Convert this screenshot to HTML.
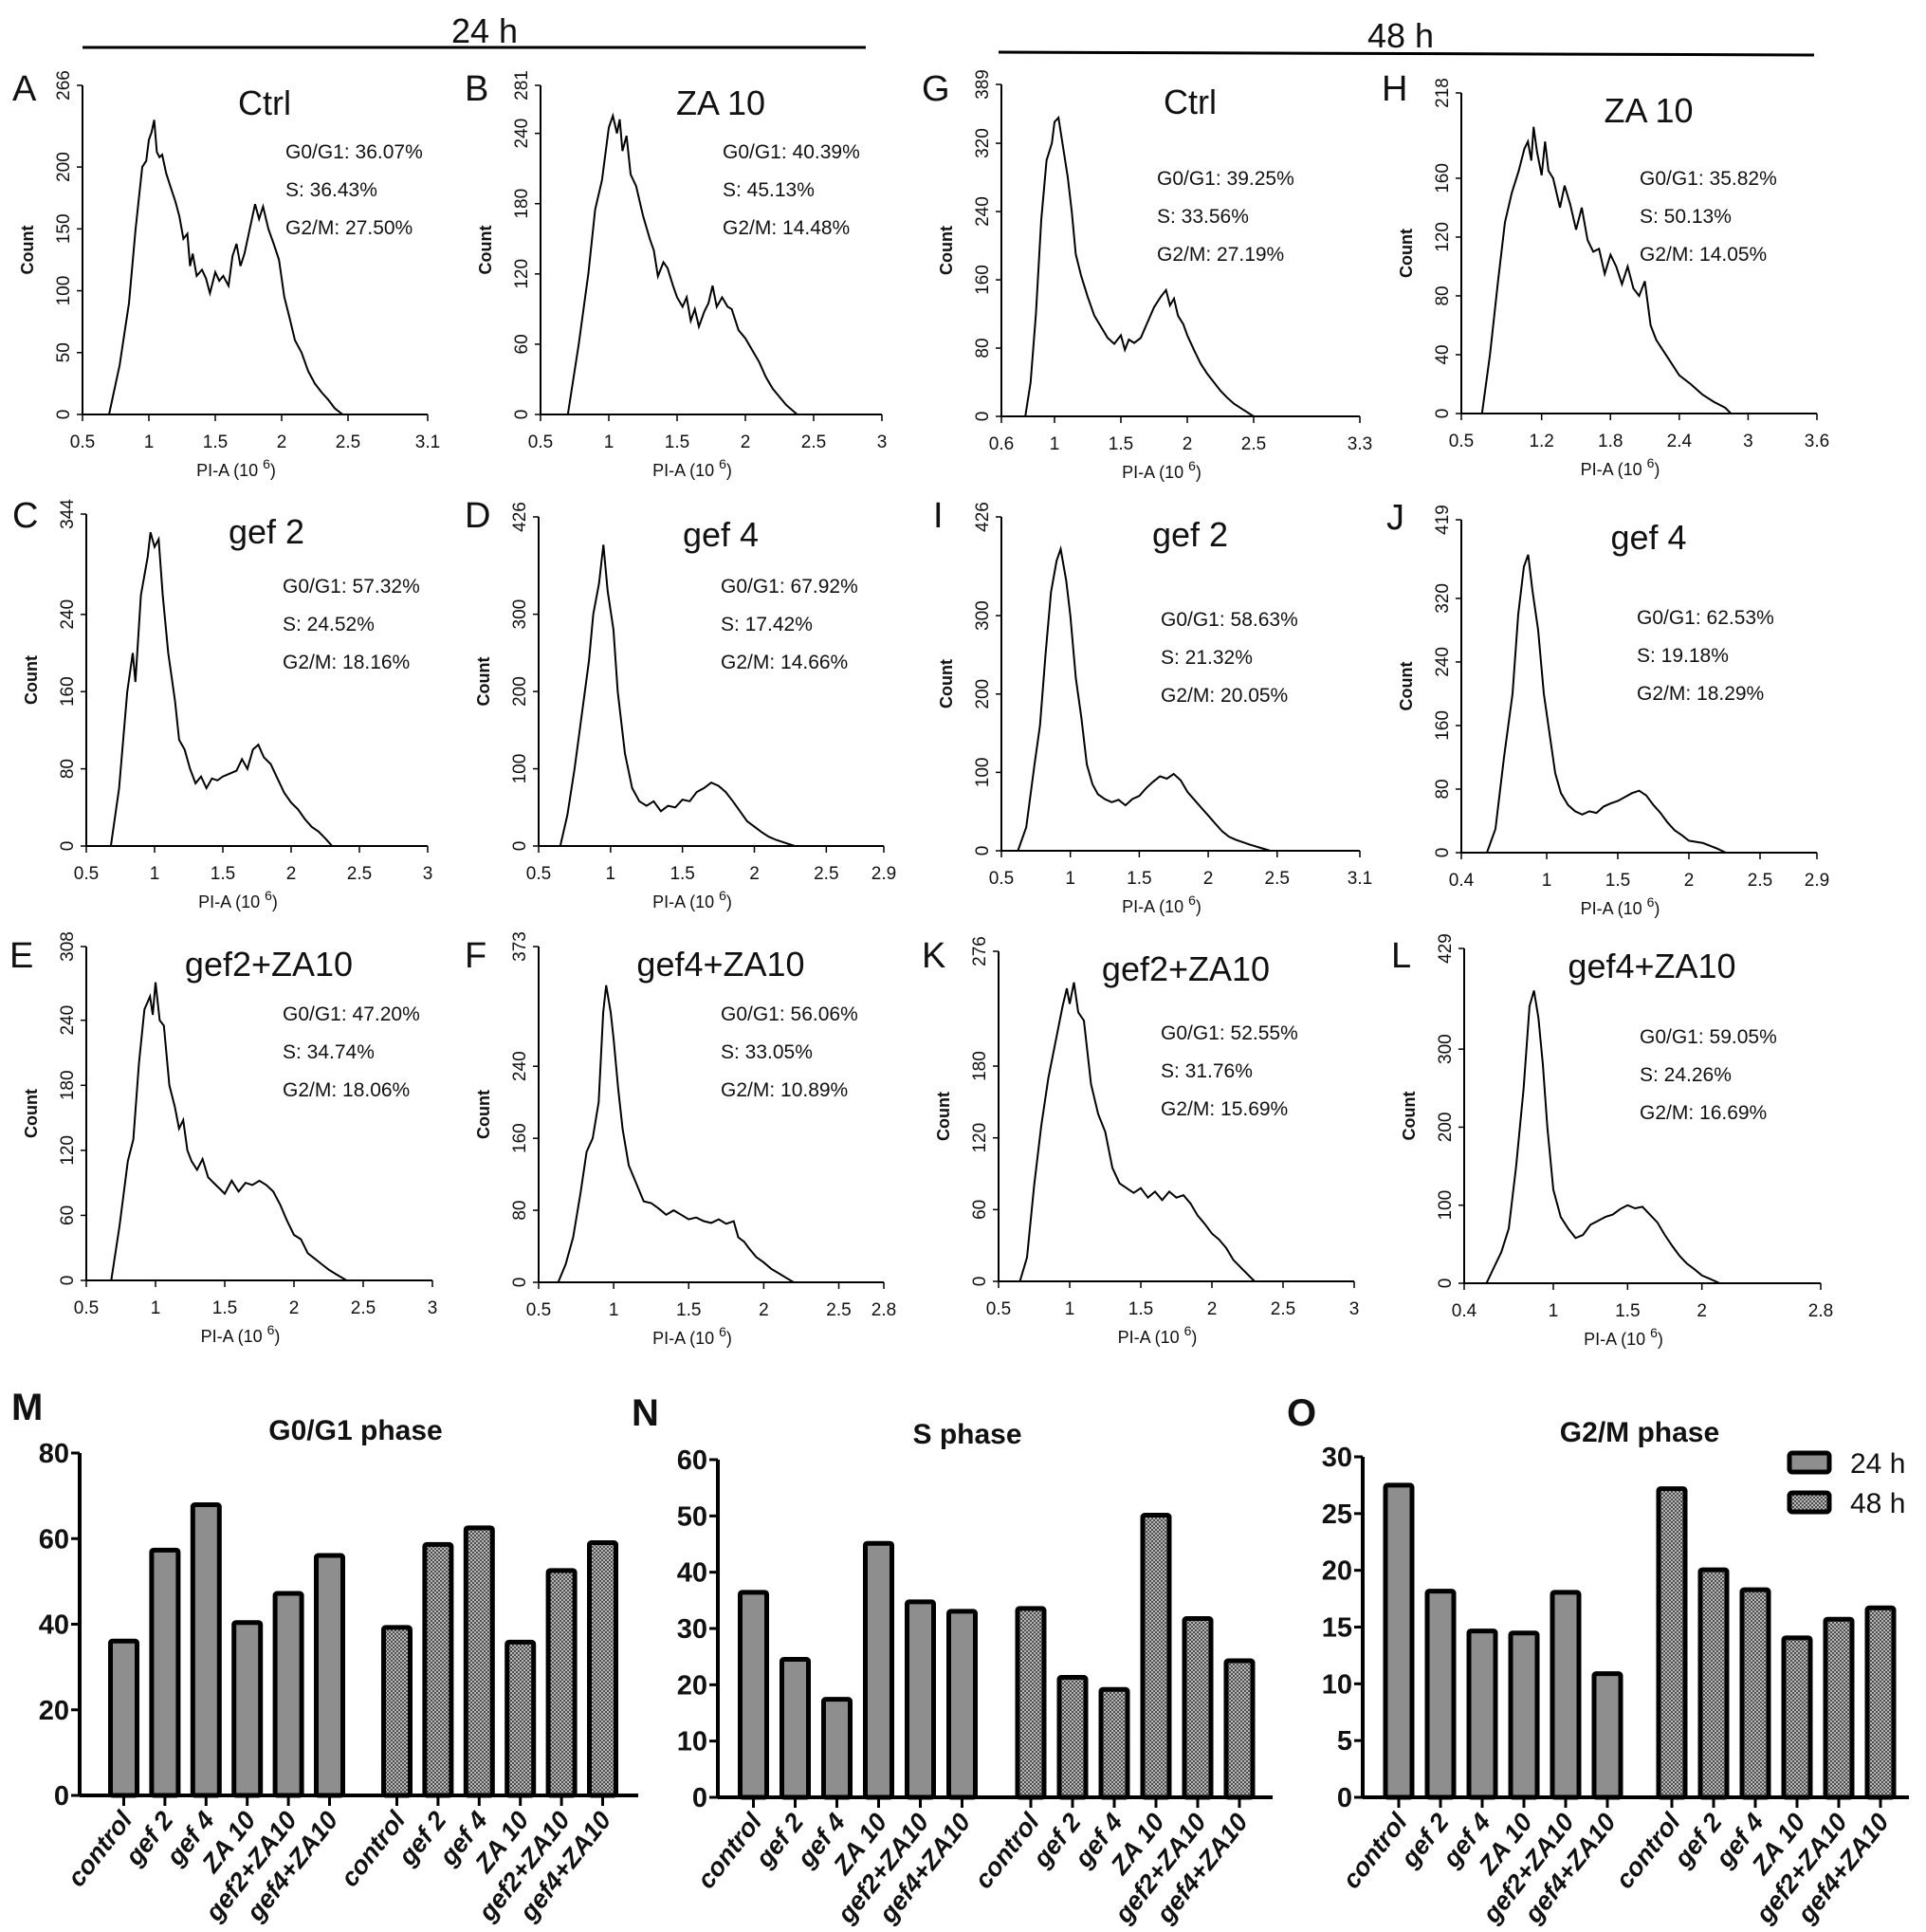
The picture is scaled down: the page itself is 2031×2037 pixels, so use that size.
<!DOCTYPE html>
<html><head><meta charset="utf-8"><style>
html,body{margin:0;padding:0;background:#fff}
svg{display:block}
text{font-family:"Liberation Sans",Arial,sans-serif;fill:#111}
</style></head><body>
<svg id="fig" xmlns="http://www.w3.org/2000/svg" width="2031" height="2037" viewBox="0 0 2031 2037">
<defs>
<pattern id="chk" width="4" height="4" patternUnits="userSpaceOnUse">
<rect width="4" height="4" fill="#4e4e4e"/><rect width="2" height="2" fill="#b8b8b8"/><rect x="2" y="2" width="2" height="2" fill="#b8b8b8"/>
</pattern>
</defs>
<g>
<text x="511" y="45" font-size="36" text-anchor="middle">24 h</text>
<line x1="87" y1="50" x2="913" y2="50" stroke="#000" stroke-width="3"/>
</g>
<g>
<text x="1477" y="50" font-size="36" text-anchor="middle">48 h</text>
<line x1="1053" y1="55" x2="1913" y2="58" stroke="#000" stroke-width="3"/>
</g>
</svg>
<script>
// ---- Histogram data (PI-A value, count) ----
const histA=[[0.7,0],[0.78,40],[0.85,90],[0.9,150],[0.95,200],[0.98,205],[1.0,222],[1.02,228],[1.04,238],[1.06,212],[1.08,208],[1.1,210],[1.13,195],[1.16,185],[1.2,172],[1.23,160],[1.26,142],[1.29,146],[1.31,120],[1.33,130],[1.36,112],[1.4,117],[1.43,110],[1.46,98],[1.5,115],[1.53,108],[1.56,112],[1.6,104],[1.63,128],[1.66,138],[1.69,120],[1.72,130],[1.76,150],[1.8,170],[1.83,158],[1.86,168],[1.9,150],[1.94,138],[1.98,125],[2.02,95],[2.06,78],[2.1,60],[2.15,50],[2.2,35],[2.25,25],[2.3,18],[2.35,12],[2.4,5],[2.46,0]];
const histB=[[0.7,0],[0.78,60],[0.85,120],[0.9,175],[0.95,200],[1.0,245],[1.03,255],[1.06,240],[1.08,252],[1.1,225],[1.13,238],[1.16,205],[1.2,195],[1.25,170],[1.3,150],[1.33,140],[1.36,118],[1.4,130],[1.43,125],[1.47,110],[1.5,100],[1.54,92],[1.57,100],[1.6,80],[1.63,90],[1.66,75],[1.7,88],[1.73,95],[1.76,110],[1.79,92],[1.83,100],[1.87,92],[1.9,90],[1.95,72],[2.0,65],[2.05,55],[2.1,45],[2.15,32],[2.2,22],[2.25,15],[2.3,8],[2.38,0]];
const histG=[[0.78,0],[0.82,40],[0.86,120],[0.9,230],[0.94,300],[0.98,320],[1.0,345],[1.03,350],[1.06,320],[1.1,280],[1.13,240],[1.16,190],[1.2,165],[1.25,140],[1.3,118],[1.35,105],[1.4,92],[1.45,85],[1.5,95],[1.53,78],[1.56,90],[1.6,86],[1.65,92],[1.7,110],[1.75,128],[1.8,140],[1.84,148],[1.87,130],[1.9,138],[1.93,118],[1.97,108],[2.0,95],[2.05,78],[2.1,62],[2.15,50],[2.2,40],[2.25,30],[2.3,22],[2.35,15],[2.42,8],[2.5,0]];
const histH=[[0.68,0],[0.75,40],[0.82,90],[0.88,130],[0.94,150],[1.0,165],[1.05,180],[1.08,185],[1.11,172],[1.13,195],[1.16,178],[1.2,162],[1.23,185],[1.26,165],[1.3,160],[1.33,150],[1.36,140],[1.4,155],[1.45,142],[1.5,125],[1.55,140],[1.6,118],[1.65,110],[1.7,112],[1.75,95],[1.8,108],[1.85,100],[1.9,88],[1.95,100],[2.0,85],[2.05,80],[2.1,90],[2.15,60],[2.2,50],[2.3,38],[2.4,26],[2.5,20],[2.6,13],[2.7,8],[2.8,4],[2.85,0]];
const histC=[[0.68,0],[0.74,60],[0.8,160],[0.84,200],[0.86,170],[0.9,260],[0.95,300],[0.97,325],[1.0,310],[1.03,318],[1.06,260],[1.1,200],[1.15,150],[1.18,110],[1.22,100],[1.26,80],[1.3,65],[1.34,72],[1.38,60],[1.42,70],[1.46,68],[1.5,72],[1.55,75],[1.6,78],[1.64,90],[1.68,80],[1.72,100],[1.76,105],[1.8,92],[1.85,85],[1.9,70],[1.95,55],[2.0,45],[2.05,38],[2.1,28],[2.15,20],[2.2,15],[2.25,8],[2.3,0]];
const histD=[[0.65,0],[0.7,40],[0.75,100],[0.8,170],[0.85,240],[0.88,300],[0.92,340],[0.95,390],[0.98,330],[1.02,280],[1.05,200],[1.1,120],[1.15,75],[1.2,58],[1.25,52],[1.3,58],[1.35,45],[1.4,52],[1.45,50],[1.5,60],[1.55,58],[1.6,70],[1.65,75],[1.7,82],[1.75,78],[1.8,70],[1.85,58],[1.9,45],[1.95,32],[2.0,25],[2.05,18],[2.1,12],[2.15,8],[2.2,5],[2.28,0]];
const histI=[[0.62,0],[0.68,30],[0.74,110],[0.78,160],[0.82,250],[0.86,330],[0.9,370],[0.93,385],[0.97,345],[1.0,300],[1.04,220],[1.08,170],[1.12,110],[1.16,85],[1.2,72],[1.25,66],[1.3,62],[1.35,65],[1.4,58],[1.45,66],[1.5,70],[1.55,80],[1.6,88],[1.65,95],[1.7,92],[1.75,98],[1.8,90],[1.85,75],[1.9,65],[1.95,55],[2.0,45],[2.05,35],[2.1,25],[2.15,18],[2.2,14],[2.3,8],[2.45,0]];
const histJ=[[0.58,0],[0.64,30],[0.7,120],[0.76,200],[0.8,300],[0.84,360],[0.87,375],[0.9,330],[0.94,280],[0.98,200],[1.02,150],[1.06,100],[1.1,75],[1.15,60],[1.2,52],[1.25,48],[1.3,52],[1.35,50],[1.4,58],[1.45,62],[1.5,65],[1.55,70],[1.6,75],[1.65,78],[1.7,72],[1.75,60],[1.8,50],[1.85,38],[1.9,28],[1.95,22],[2.0,15],[2.1,12],[2.2,5],[2.26,0]];
const histE=[[0.68,0],[0.74,50],[0.8,110],[0.84,130],[0.88,200],[0.92,250],[0.96,262],[0.98,245],[1.0,275],[1.03,240],[1.06,235],[1.1,180],[1.14,160],[1.17,140],[1.2,148],[1.23,120],[1.26,110],[1.3,102],[1.34,112],[1.38,95],[1.42,90],[1.46,85],[1.5,80],[1.55,92],[1.6,82],[1.65,90],[1.7,88],[1.75,92],[1.8,88],[1.85,82],[1.9,70],[1.95,55],[2.0,42],[2.05,38],[2.1,25],[2.15,20],[2.2,15],[2.25,10],[2.3,6],[2.38,0]];
const histF=[[0.63,0],[0.68,20],[0.73,50],[0.78,100],[0.82,145],[0.86,160],[0.9,200],[0.93,300],[0.95,330],[0.98,300],[1.0,270],[1.03,215],[1.06,170],[1.1,130],[1.15,110],[1.2,90],[1.25,88],[1.3,82],[1.35,75],[1.4,80],[1.45,75],[1.5,70],[1.55,72],[1.6,68],[1.65,66],[1.7,70],[1.75,65],[1.8,68],[1.83,50],[1.87,45],[1.9,38],[1.95,28],[2.0,22],[2.05,15],[2.1,10],[2.15,5],[2.2,0]];
const histK=[[0.65,0],[0.7,20],[0.75,80],[0.8,130],[0.85,170],[0.9,200],[0.95,230],[0.98,245],[1.0,232],[1.03,250],[1.06,225],[1.1,218],[1.15,165],[1.2,140],[1.25,125],[1.3,95],[1.35,82],[1.4,78],[1.45,74],[1.5,78],[1.55,70],[1.6,75],[1.65,68],[1.7,75],[1.75,70],[1.8,72],[1.85,65],[1.9,55],[1.95,48],[2.0,40],[2.05,35],[2.1,28],[2.15,18],[2.2,12],[2.3,0]];
const histL=[[0.55,0],[0.6,20],[0.65,40],[0.7,70],[0.75,150],[0.8,250],[0.84,355],[0.87,375],[0.9,340],[0.93,280],[0.96,200],[1.0,120],[1.05,85],[1.1,70],[1.15,58],[1.2,62],[1.25,75],[1.3,80],[1.35,85],[1.4,88],[1.45,95],[1.5,100],[1.55,96],[1.6,98],[1.65,88],[1.7,78],[1.75,62],[1.8,48],[1.85,35],[1.9,25],[1.95,18],[2.0,10],[2.05,6],[2.12,0]];

// tick label arrays
const xtA=[0.5,1,1.5,2,2.5,3.1], ytA=[0,50,100,150,200,266];
const xtB=[0.5,1,1.5,2,2.5,3], ytB=[0,60,120,180,240,281];
const xtG=[0.6,1,1.5,2,2.5,3.3], ytG=[0,80,160,240,320,389];
const xtH=[0.5,1.2,1.8,2.4,3,3.6], ytH=[0,40,80,120,160,218];
const xtC=[0.5,1,1.5,2,2.5,3], ytC=[0,80,160,240,344];
const xtD=[0.5,1,1.5,2,2.5,2.9], ytD=[0,100,200,300,426];
const xtI=[0.5,1,1.5,2,2.5,3.1], ytI=[0,100,200,300,426];
const xtJ=[0.4,1,1.5,2,2.5,2.9], ytJ=[0,80,160,240,320,419];
const xtE=[0.5,1,1.5,2,2.5,3], ytE=[0,60,120,180,240,308];
const xtF=[0.5,1,1.5,2,2.5,2.8], ytF=[0,80,160,240,373];
const xtK=[0.5,1,1.5,2,2.5,3], ytK=[0,60,120,180,276];
const xtL=[0.4,1,1.5,2,2.8], ytL=[0,100,200,300,429];

// stats
const statsA=["G0/G1: 36.07%","S: 36.43%","G2/M: 27.50%"];
const statsB=["G0/G1: 40.39%","S: 45.13%","G2/M: 14.48%"];
const statsG=["G0/G1: 39.25%","S: 33.56%","G2/M: 27.19%"];
const statsH=["G0/G1: 35.82%","S: 50.13%","G2/M: 14.05%"];
const statsC=["G0/G1: 57.32%","S: 24.52%","G2/M: 18.16%"];
const statsD=["G0/G1: 67.92%","S: 17.42%","G2/M: 14.66%"];
const statsI=["G0/G1: 58.63%","S: 21.32%","G2/M: 20.05%"];
const statsJ=["G0/G1: 62.53%","S: 19.18%","G2/M: 18.29%"];
const statsE=["G0/G1: 47.20%","S: 34.74%","G2/M: 18.06%"];
const statsF=["G0/G1: 56.06%","S: 33.05%","G2/M: 10.89%"];
const statsK=["G0/G1: 52.55%","S: 31.76%","G2/M: 15.69%"];
const statsL=["G0/G1: 59.05%","S: 24.26%","G2/M: 16.69%"];

// bar chart data
const categories=["control","gef 2","gef 4","ZA 10","gef2+ZA10","gef4+ZA10"];
const g1_24=[36.07,57.32,67.92,40.39,47.20,56.06], g1_48=[39.25,58.63,62.53,35.82,52.55,59.05];
const s_24=[36.43,24.52,17.42,45.13,34.74,33.05], s_48=[33.56,21.32,19.18,50.13,31.76,24.26];
const g2_24=[27.50,18.16,14.66,14.48,18.06,10.89], g2_48=[27.19,20.05,18.29,14.05,15.69,16.69];
const ticksG1=[0,20,40,60,80], ticksS=[0,10,20,30,40,50,60], ticksG2=[0,5,10,15,20,25,30];

const NS="http://www.w3.org/2000/svg";
const svg=document.getElementById('fig');
function mk(tag,attrs,parent,txt){const e=document.createElementNS(NS,tag);for(const k in attrs)e.setAttribute(k,attrs[k]);if(txt!==undefined)e.textContent=txt;(parent||svg).appendChild(e);return e;}

const panels=[
 {id:'a',L:'A',lx:13,ly:106,title:'Ctrl',x0:87,x1:451,top:90,bot:437,xmin:0.5,xmax:3.1,xt:xtA,yt:ytA,d:histA,st:statsA,sx:301,sy:[159,199,239]},
 {id:'b',L:'B',lx:490,ly:106,title:'ZA 10',x0:570,x1:930,top:90,bot:437,xmin:0.5,xmax:3,xt:xtB,yt:ytB,d:histB,st:statsB,sx:762,sy:[159,199,239]},
 {id:'g',L:'G',lx:972,ly:106,title:'Ctrl',x0:1056,x1:1434,top:89,bot:439,xmin:0.6,xmax:3.3,xt:xtG,yt:ytG,d:histG,st:statsG,sx:1220,sy:[187,227,267]},
 {id:'h',L:'H',lx:1457,ly:106,title:'ZA 10',x0:1541,x1:1916,top:98,bot:436,xmin:0.5,xmax:3.6,xt:xtH,yt:ytH,d:histH,st:statsH,sx:1729,sy:[187,227,267]},
 {id:'c',L:'C',lx:13,ly:556,title:'gef 2',x0:91,x1:451,top:542,bot:892,xmin:0.5,xmax:3,xt:xtC,yt:ytC,d:histC,st:statsC,sx:298,sy:[617,657,697]},
 {id:'d',L:'D',lx:490,ly:556,title:'gef 4',x0:568,x1:932,top:545,bot:892,xmin:0.5,xmax:2.9,xt:xtD,yt:ytD,d:histD,st:statsD,sx:760,sy:[617,657,697]},
 {id:'i',L:'I',lx:984,ly:556,title:'gef 2',x0:1056,x1:1434,top:545,bot:897,xmin:0.5,xmax:3.1,xt:xtI,yt:ytI,d:histI,st:statsI,sx:1224,sy:[652,692,732]},
 {id:'j',L:'J',lx:1462,ly:558,title:'gef 4',x0:1541,x1:1916,top:548,bot:899,xmin:0.4,xmax:2.9,xt:xtJ,yt:ytJ,d:histJ,st:statsJ,sx:1726,sy:[650,690,730]},
 {id:'e',L:'E',lx:10,ly:1020,title:'gef2+ZA10',x0:91,x1:456,top:998,bot:1350,xmin:0.5,xmax:3,xt:xtE,yt:ytE,d:histE,st:statsE,sx:298,sy:[1068,1108,1148]},
 {id:'f',L:'F',lx:490,ly:1020,title:'gef4+ZA10',x0:568,x1:932,top:998,bot:1352,xmin:0.5,xmax:2.8,xt:xtF,yt:ytF,d:histF,st:statsF,sx:760,sy:[1068,1108,1148]},
 {id:'k',L:'K',lx:972,ly:1020,title:'gef2+ZA10',x0:1053,x1:1428,top:1003,bot:1351,xmin:0.5,xmax:3,xt:xtK,yt:ytK,d:histK,st:statsK,sx:1224,sy:[1088,1128,1168]},
 {id:'l',L:'L',lx:1467,ly:1020,title:'gef4+ZA10',x0:1544,x1:1920,top:1000,bot:1353,xmin:0.4,xmax:2.8,xt:xtL,yt:ytL,d:histL,st:statsL,sx:1729,sy:[1092,1132,1172]}
];

panels.forEach(p=>{
  const g=mk('g',{});
  
  
  const ymax=p.yt[p.yt.length-1];
  const X=v=>p.x0+(v-p.xmin)/(p.xmax-p.xmin)*(p.x1-p.x0);
  const Y=v=>p.bot-v/ymax*(p.bot-p.top);
  const lt=mk('text',{x:p.lx,y:p.ly,'font-size':38},g,p.L);
  
  
  const tt=mk('text',{x:(p.x0+p.x1)/2+10,y:p.top+31,'font-size':36,'text-anchor':'middle'},g,p.title);
  
  
  mk('line',{x1:p.x0,y1:p.top,x2:p.x0,y2:p.bot,stroke:'#000','stroke-width':2},g);
  mk('line',{x1:p.x0,y1:p.bot,x2:p.x1,y2:p.bot,stroke:'#000','stroke-width':2},g);
  p.yt.forEach(v=>{
    const y=Y(v);
    mk('line',{x1:p.x0-6,y1:y,x2:p.x0,y2:y,stroke:'#000','stroke-width':1.5},g);
    const t=mk('text',{x:0,y:0,'font-size':19,'text-anchor':'middle',transform:`translate(${p.x0-14},${y}) rotate(-90)`},g,String(v));
    
    
  });
  p.xt.forEach(v=>{
    const x=X(v);
    mk('line',{x1:x,y1:p.bot,x2:x,y2:p.bot+7,stroke:'#000','stroke-width':1.5},g);
    const t=mk('text',{x:x,y:p.bot+35,'font-size':19,'text-anchor':'middle'},g,String(v));
    
    
  });
  const yl=mk('text',{x:0,y:0,'font-size':18,'font-weight':'bold','text-anchor':'middle',transform:`translate(${p.x0-52},${(p.top+p.bot)/2}) rotate(-90)`},g,'Count');
  
  
  const xl=mk('text',{x:(p.x0+p.x1)/2-20,y:p.bot+65,'font-size':18,'text-anchor':'middle'},g);
  
  
  xl.appendChild(document.createTextNode('PI-A  (10 '));
  mk('tspan',{'font-size':14,dy:-8},xl,'6');
  mk('tspan',{'font-size':18,dy:8},xl,')');
  const pts=p.d.map(q=>X(q[0]).toFixed(1)+','+Y(q[1]).toFixed(1)).join(' ');
  const c=mk('polyline',{points:pts,fill:'none',stroke:'#000','stroke-width':2},g);
  
  
  p.st.forEach((s,i)=>{
    const t=mk('text',{x:p.sx,y:p.sy[i]+8,'font-size':21},g,s);
    
    
  });
});

const bars=[
 {id:'m',L:'M',lx:12,ly:1497,title:'G0/G1 phase',tx:375,ty:1518,ax:84,y0:1893,ytop:1532,vmax:80,ticks:ticksG1,c0:130.5,sp:43.4,c1:418.5,xend:673,a:g1_24,b:g1_48},
 {id:'n',L:'N',lx:666,ly:1503,title:'S phase',tx:1020,ty:1522,ax:757,y0:1895,ytop:1539,vmax:60,ticks:ticksS,c0:794.5,sp:44,c1:1087,xend:1342,a:s_24,b:s_48},
 {id:'o',L:'O',lx:1357,ly:1503,title:'G2/M phase',tx:1729,ty:1520,ax:1437,y0:1895,ytop:1536,vmax:30,ticks:ticksG2,c0:1475,sp:44,c1:1763,xend:2013,a:g2_24,b:g2_48}
];
bars.forEach(B=>{
  const g=mk('g',{});
  
  
  const Y=v=>B.y0-v/B.vmax*(B.y0-B.ytop);
  const lt=mk('text',{x:B.lx,y:B.ly,'font-size':40,'font-weight':'bold'},g,B.L);
  
  
  const tt=mk('text',{x:B.tx,y:B.ty,'font-size':30,'font-weight':'bold','text-anchor':'middle'},g,B.title);
  
  
  B.ticks.forEach(v=>{
    const y=Y(v);
    mk('line',{x1:B.ax-9,y1:y,x2:B.ax,y2:y,stroke:'#000','stroke-width':3},g);
    const t=mk('text',{x:B.ax-11,y:y+10,'font-size':29,'font-weight':'bold','text-anchor':'end'},g,String(v));
    
    
  });
  const draw=(arr,start,fill,series)=>{
    arr.forEach((v,i)=>{
      const cx=start+i*B.sp, y=Y(v);
      const r=mk('rect',{x:cx-14,y:y,width:28,height:B.y0-y,fill:fill,stroke:'#000','stroke-width':5,rx:2},g);
      
      
      mk('line',{x1:cx,y1:B.y0,x2:cx,y2:B.y0+11,stroke:'#000','stroke-width':3},g);
      const t=mk('text',{x:0,y:0,'font-size':27,'font-weight':'bold','font-style':'italic','text-anchor':'end',transform:`translate(${cx+10},${B.y0+26}) rotate(-52)`},g,categories[i]);
      
      
    });
  };
  draw(B.a,B.c0,'#8e8e8e','24h');
  draw(B.b,B.c1,'url(#chk)','48h');
  mk('line',{x1:B.ax,y1:B.ytop,x2:B.ax,y2:B.y0,stroke:'#000','stroke-width':4},g);
  mk('line',{x1:B.ax,y1:B.y0,x2:B.xend,y2:B.y0,stroke:'#000','stroke-width':4},g);
});
const lg=mk('g',{});


const l1=mk('rect',{x:1887,y:1532,width:42,height:20,fill:'#8e8e8e',stroke:'#000','stroke-width':5,rx:3},lg);


const l2=mk('rect',{x:1887,y:1574,width:42,height:20,fill:'url(#chk)',stroke:'#000','stroke-width':5,rx:3},lg);


const t1=mk('text',{x:1951,y:1553,'font-size':30},lg,'24 h');


const t2=mk('text',{x:1951,y:1595,'font-size':30},lg,'48 h');


</script>
</body></html>
